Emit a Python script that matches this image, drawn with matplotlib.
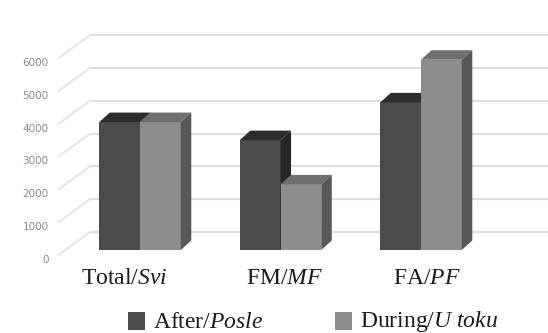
import matplotlib
matplotlib.use('Agg')
import matplotlib.pyplot as plt
from matplotlib.patches import Polygon, Rectangle
import numpy as np

plt.rcParams['font.family'] = ['Liberation Serif', 'DejaVu Serif']
plt.rcParams['mathtext.fontset'] = 'custom'
plt.rcParams['mathtext.rm'] = 'Liberation Serif'
plt.rcParams['mathtext.it'] = 'Liberation Serif:italic'

categories = ['Total/$\\mathit{Svi}$', 'FM/$\\mathit{MF}$', 'FA/$\\mathit{PF}$']
after = [3900, 3350, 4500]
during = [3900, 2000, 5800]
series_labels = ['After/$\\mathit{Posle}$', 'During/$\\mathit{U\\ toku}$']
yticks = [0, 1000, 2000, 3000, 4000, 5000, 6000]

# colours: front, top, side
after_col = ('#4b4b4b', '#2c2c2c', '#262626')
during_col = ('#8d8d8d', '#6f6f6f', '#585858')

bw = 0.29        # bar width (category units)
ddx = 0.075      # depth offset in x
ddy = 290        # depth offset in y
wall_dx, wall_dy = 0.356, 550     # back wall shift
side_x0, side_dy = -0.58, -150    # front edge of the left wall

fig = plt.figure(figsize=(5.48, 3.33), dpi=100)
ax = fig.add_axes([0, 0, 1, 1])
ax.set_xlim(-140 / 140.5, 408 / 140.5)
ax.set_ylim(-2530, 7622)
ax.axis('off')

xs = np.arange(len(categories))
wall_x = -wall_dx

# back wall grid and left wall diagonals
for v in yticks:
    ax.plot([wall_x, 408 / 140.5], [v + wall_dy, v + wall_dy],
            color='#dedede', lw=1.5, zorder=1)
    ax.plot([side_x0, wall_x], [v + side_dy, v + wall_dy],
            color='#e4e4e4', lw=1.4, zorder=1)
    ax.text(side_x0 - 0.07, v - 300, str(v), ha='right', va='center',
            fontsize=7.5, color='#8a8a8a', family='DejaVu Sans')


def bar3d(x0, h, cols):
    front, top, side = cols
    ax.add_patch(Rectangle((x0, 0), bw, h, facecolor=front, edgecolor='none', zorder=3))
    ax.add_patch(Polygon([(x0, h), (x0 + bw, h), (x0 + bw + ddx, h + ddy), (x0 + ddx, h + ddy)],
                         closed=True, facecolor=top, edgecolor='none', zorder=3))
    ax.add_patch(Polygon([(x0 + bw, 0), (x0 + bw + ddx, ddy), (x0 + bw + ddx, h + ddy), (x0 + bw, h)],
                         closed=True, facecolor=side, edgecolor='none', zorder=3))


for i, x in enumerate(xs):
    bar3d(x - bw, after[i], after_col)
    bar3d(x, during[i], during_col)

label_shift = [-0.11, 0.03, 0.04]
for i, x in enumerate(xs):
    ax.text(x + label_shift[i], -870, categories[i], ha='center', va='center',
            fontsize=17, color='#1a1a1a')

# legend along the bottom
leg_x = [128 / 548, 335 / 548]
for lx, lab, cols in zip(leg_x, series_labels, [after_col, during_col]):
    fig.add_artist(Rectangle((lx, 3 / 333), 17 / 548, 18 / 333, facecolor=cols[0],
                             edgecolor='none', transform=fig.transFigure))
    fig.text(lx + 25 / 548, 11 / 333, lab, ha='left', va='center',
             fontsize=17, color='#1a1a1a')

fig.savefig('out.png', dpi=100)
